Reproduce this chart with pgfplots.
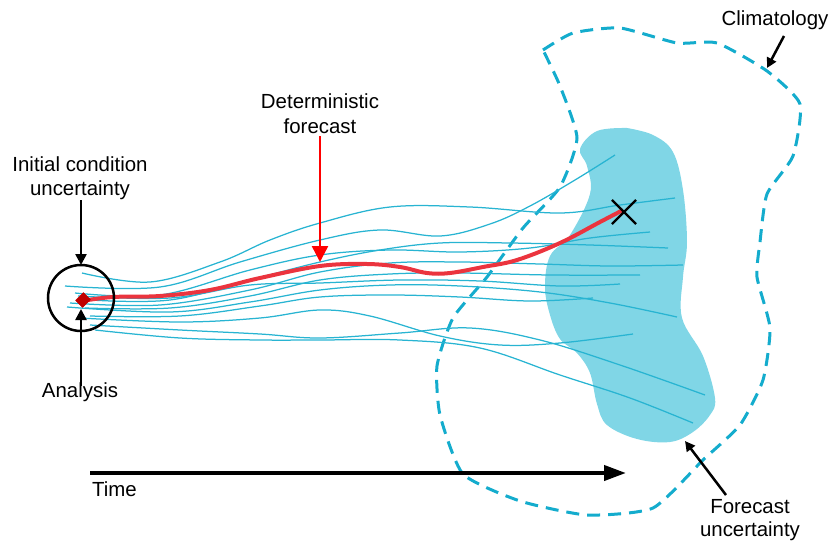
\documentclass[border=0pt]{standalone}
\usepackage{pgfplots}
\pgfplotsset{compat=1.18}
\usepackage{fontspec}
\setmainfont{Liberation Sans}
\usetikzlibrary{arrows.meta}
\definecolor{ens}{RGB}{40,180,210}
\definecolor{blob}{RGB}{128,214,230}
\definecolor{clim}{RGB}{20,172,205}
\definecolor{fcst}{RGB}{235,52,62}
\definecolor{darr}{RGB}{255,0,0}
\definecolor{dia}{RGB}{192,0,0}
\begin{document}
\begin{tikzpicture}
\fontsize{20.5}{24}\selectfont
\begin{axis}[
  scale only axis, width=840bp, height=542bp,
  xmin=0, xmax=840, ymin=0, ymax=542, y dir=reverse,
  hide axis, clip=false,
]
% forecast uncertainty blob
\addplot[fill=blob, draw=none, mark=none, smooth, tension=0.6] coordinates {
(627,128) (653,135) (673,152) (683,190) (687,242) (683,277) (682,318) (703,356)
(715,398) (710,415) (693,432) (670,442) (637,439) (607,425) (597,404) (590,373)
(577,353) (560,339) (550,315) (545,287) (550,256) (570,235) (590,194) (587,166)
(580,149) (597,131) (627,128)};
% climatology
\addplot[clim, mark=none, line width=3bp, dash pattern=on 13bp off 8bp, smooth, tension=0.35] coordinates {
(543,50) (573,33) (620,28) (677,43) (717,43) (767,71) (800,104) (793,156) (767,194)
(760,242) (757,277) (770,328) (763,380) (740,425) (703,460) (653,508) (587,515)
(520,501) (463,474) (440,415) (437,366) (453,318) (487,277) (523,228) (560,187)
(577,138) (560,86) (543,50)};
% ensemble members
\pgfplotsset{ensline/.style={ens, mark=none, line width=1.25bp, smooth, tension=0.6}}
\addplot[ensline] coordinates {(82,273) (150,282) (220,262) (270,240) (320,223) (390,207) (470,207) (560,213) (620,205) (675,198)};
\addplot[ensline] coordinates {(65,286) (160,287) (240,262) (320,240) (380,230) (440,236) (490,224) (530,206) (575,180) (615,155)};
\addplot[ensline] coordinates {(75,293) (160,295) (250,270) (320,255) (390,250) (460,252) (530,248) (590,238) (650,232)};
\addplot[ensline] coordinates {(90,300) (170,300) (250,280) (320,262) (380,250) (440,243) (510,243) (590,245) (668,248)};
\addplot[ensline] coordinates {(70,303) (160,305) (250,290) (320,272) (390,263) (460,262) (540,264) (610,266) (683,265)};
\addplot[ensline] coordinates {(85,308) (170,308) (250,296) (320,280) (390,274) (460,273) (550,275) (640,275)};
\addplot[ensline] coordinates {(67,307) (170,312) (250,302) (320,290) (390,285) (460,286) (540,292) (610,303) (677,317)};
\addplot[ensline] coordinates {(90,316) (180,316) (260,306) (320,297) (390,295) (460,297) (530,301) (593,298)};
\addplot[ensline] coordinates {(80,318) (180,322) (260,318) (320,310) (370,316) (440,336) (500,345) (560,343) (633,334)};
\addplot[ensline] coordinates {(90,325) (180,330) (260,334) (320,338) (400,333) (470,328) (540,340) (620,365) (705,395)};
\addplot[ensline] coordinates {(95,330) (180,338) (260,340) (320,340) (400,340) (480,348) (560,375) (630,398) (693,423)};
\addplot[ensline] coordinates {(78,296) (170,298) (250,285) (320,283) (400,280) (480,281) (560,286) (620,284)};
% deterministic forecast
\addplot[fcst, mark=none, line width=4bp, smooth, tension=0.6] coordinates {
(82,301) (113,297) (160,296) (210,290) (260,278) (320,266) (367,264) (400,267) (427,273)
(450,273) (483,267) (517,260) (560,243) (600,222) (623,210)};
% analysis diamond and verifying X
\addplot[only marks, mark=square*, mark size=5.5bp, color=dia, mark options={fill=dia, draw=dia, rotate=45, yscale=0.9}] coordinates {(83,300)};
\addplot[only marks, mark=x, mark size=17bp, black, mark options={line width=2.2bp}] coordinates {(624,212)};
% circle
\draw[black, line width=2.5bp] (axis cs:81,298) circle [radius=33bp];
% arrows
\addplot[black, mark=none, line width=2.5bp, -{Triangle[length=11bp,width=11bp]}] coordinates {(81,200) (81,265)};
\addplot[black, mark=none, line width=2.5bp, -{Triangle[length=11bp,width=11bp]}] coordinates {(81,386) (81,309)};
\addplot[darr, mark=none, line width=2.5bp, -{Triangle[length=16bp,width=16bp]}] coordinates {(320,136) (320,262)};
\addplot[black, mark=none, line width=4bp, -{Triangle[length=22bp,width=15bp]}] coordinates {(90,473) (626,473)};
\addplot[black, mark=none, line width=2.5bp, -{Triangle[length=10bp,width=10bp]}] coordinates {(784,36) (767,68)};
\addplot[black, mark=none, line width=2.5bp, -{Triangle[length=10bp,width=10bp]}] coordinates {(726,495) (685,441)};
% labels
\node at (axis cs:80,164) {Initial condition};
\node at (axis cs:80,190) {uncertainty};
\node at (axis cs:80,392) {Analysis};
\node at (axis cs:320,101) {Deterministic};
\node at (axis cs:320,126) {forecast};
\node[anchor=west, inner sep=0pt] at (axis cs:92,489) {Time};
\node at (axis cs:775,20) {Climatology};
\node at (axis cs:750,507) {Forecast};
\node at (axis cs:750,531) {uncertainty};
\end{axis}
\pgfresetboundingbox
\path (0,0) rectangle (840bp,542bp);
\end{tikzpicture}
\end{document}
